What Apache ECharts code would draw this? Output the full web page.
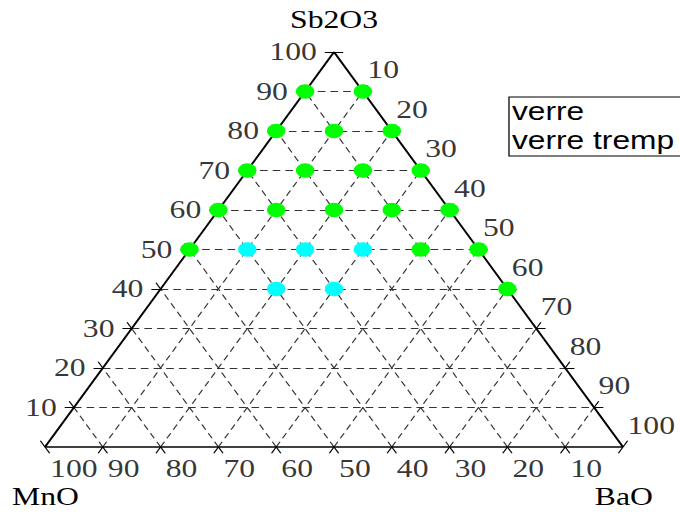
<!DOCTYPE html>
<html>
<head>
<meta charset="utf-8">
<script src="https://cdn.jsdelivr.net/npm/echarts@6/dist/echarts.min.js"></script>
<style>
html,body{margin:0;padding:0;overflow:hidden;background:#fff;width:680px;height:512px;}
#main{width:536px;height:512px;transform:scaleX(1.268657);transform-origin:0 0;}
</style>
</head>
<body>
<div id="main"></div>
<script>
// ---- data (ternary compositions, %) ----
const components = ['Sb2O3', 'MnO', 'BaO'];          // top, left, right vertices
const seriesNames = ['verre', 'verre tremp'];
const verreSb2O3 = [90, 90, 80, 80, 80, 70, 70, 70, 70, 60, 60, 60, 60, 60, 50, 50, 50, 40];
const verreMnO   = [10,  0, 20, 10,  0, 30, 20, 10,  0, 40, 30, 20, 10,  0, 50, 10,  0,  0];
const verreBaO   = [ 0, 10,  0, 10, 20,  0, 10, 20, 30,  0, 10, 20, 30, 40,  0, 40, 50, 60];
const trempSb2O3 = [50, 50, 50, 40, 40];
const trempMnO   = [40, 30, 20, 40, 30];
const trempBaO   = [10, 20, 30, 20, 30];
const tickValues = [10, 20, 30, 40, 50, 60, 70, 80, 90, 100];
const tickLabels = ['10', '20', '30', '40', '50', '60', '70', '80', '90', '100'];

// ---- ternary -> cartesian (x = BaO + Sb2O3/2, y = Sb2O3) ----
function toXY(a, b, c) {
  const s = a + b + c;
  a = a * 100 / s; c = c * 100 / s;
  return [c + a / 2, a];
}
function pts(A, B, C) { return A.map((a, i) => toXY(a, B[i], C[i])); }

// grid lines and ticks
const gridSegs = [], tickSegs = [];
const L = 1.6;
tickValues.forEach(v => {
  const h1 = toXY(v, 100 - v, 0), h2 = toXY(v, 0, 100 - v);
  const c1 = toXY(0, 100 - v, v), c2 = toXY(100 - v, 0, v);
  const b1 = toXY(0, v, 100 - v), b2 = toXY(100 - v, v, 0);
  if (v < 100) { gridSegs.push([h1, h2], [c1, c2], [b1, b2]); }
  [[h1, h2, [1, 0]], [c1, c2, [0.5, 1]], [b1, b2, [-0.5, 1]]].forEach(([p, q, d]) => {
    let lo = p, hi = q;
    if (lo[1] > hi[1] || (lo[1] === hi[1] && lo[0] > hi[0])) { lo = q; hi = p; }
    tickSegs.push([[lo[0] - d[0] * L, lo[1] - d[1] * L], lo]);
    tickSegs.push([hi, [hi[0] + d[0] * L, hi[1] + d[1] * L]]);
  });
});
const edges = [[toXY(0, 100, 0), toXY(0, 0, 100)], [toXY(0, 0, 100), toXY(100, 0, 0)], [toXY(100, 0, 0), toXY(0, 100, 0)]];

const leftLabelPts = tickValues.map((v, i) => ({ value: toXY(v, 100 - v, 0), name: tickLabels[i] }));
const rightLabelPts = tickValues.map((v, i) => ({ value: toXY(100 - v, 0, v), name: tickLabels[i] }));
const bottomLabelPts = tickValues.map((v, i) => ({ value: toXY(0, v, 100 - v), name: tickLabels[i] }));

const S = 680 / 536;
const serif = 'Liberation Serif';
const FS = 25;
const labelSeries = (data, label) => ({
  type: 'scatter', data, symbolSize: 1, itemStyle: { color: 'rgba(0,0,0,0)' }, silent: true, clip: false,
  label: Object.assign({ show: true, formatter: p => p.name, fontFamily: serif, fontSize: FS, color: '#000' }, label),
  z: 5
});

const chart = echarts.init(document.getElementById('main'), null, { renderer: 'svg' });
chart.setOption({
  animation: false,
  grid: { left: 45 / S, top: 52, width: 578 / S, height: 395 },
  xAxis: { type: 'value', min: 0, max: 100, show: false },
  yAxis: { type: 'value', min: 0, max: 100, show: false },
  legend: {
    data: seriesNames, orient: 'vertical', left: 398.6, top: 99, padding: 0,
    icon: 'none', itemWidth: 0, itemHeight: 25, itemGap: 4,
    textStyle: { fontFamily: 'Liberation Sans', fontSize: 25, color: '#000' }
  },
  graphic: [
    { type: 'rect', shape: { x: 401.2, y: 97, width: 200, height: 59 }, style: { fill: 'none', stroke: '#000', lineWidth: 1 } },
    { type: 'text', x: 263.3, y: 20, style: { text: components[0], fontFamily: serif, fontSize: FS, fill: '#000', align: 'center', verticalAlign: 'middle' } },
    { type: 'text', x: 35.9, y: 497, style: { text: components[1], fontFamily: serif, fontSize: FS, fill: '#000', align: 'center', verticalAlign: 'middle' } },
    { type: 'text', x: 491.8, y: 497, style: { text: components[2], fontFamily: serif, fontSize: FS, fill: '#000', align: 'center', verticalAlign: 'middle' } }
  ],
  series: [
    { type: 'lines', coordinateSystem: 'cartesian2d', clip: false, silent: true, z: 1,
      data: gridSegs.map(s => ({ coords: s })),
      lineStyle: { color: '#333', width: 1, type: [6, 4], opacity: 1 } },
    { type: 'lines', coordinateSystem: 'cartesian2d', clip: false, silent: true, z: 2,
      data: tickSegs.map(s => ({ coords: s })),
      lineStyle: { color: '#000', width: 1, opacity: 1 } },
    { type: 'lines', coordinateSystem: 'cartesian2d', clip: false, silent: true, z: 3,
      data: edges.map(s => ({ coords: s })),
      lineStyle: { color: '#000', width: 1.6, opacity: 1 } },
    labelSeries(leftLabelPts, { position: 'left', distance: 13, align: 'right', verticalAlign: 'middle' }),
    labelSeries(rightLabelPts, { position: [4, -21], align: 'left', verticalAlign: 'middle' }),
    labelSeries(bottomLabelPts, { position: [4.5, 22], align: 'left', verticalAlign: 'middle' }),
    { name: seriesNames[0], type: 'scatter', z: 10, clip: false, symbolSize: 14.5,
      itemStyle: { color: '#00ff00', opacity: 1 }, data: pts(verreSb2O3, verreMnO, verreBaO) },
    { name: seriesNames[1], type: 'scatter', z: 10, clip: false, symbolSize: 14.5,
      itemStyle: { color: '#00ffff', opacity: 1 }, data: pts(trempSb2O3, trempMnO, trempBaO) }
  ]
});
</script>
</body>
</html>
